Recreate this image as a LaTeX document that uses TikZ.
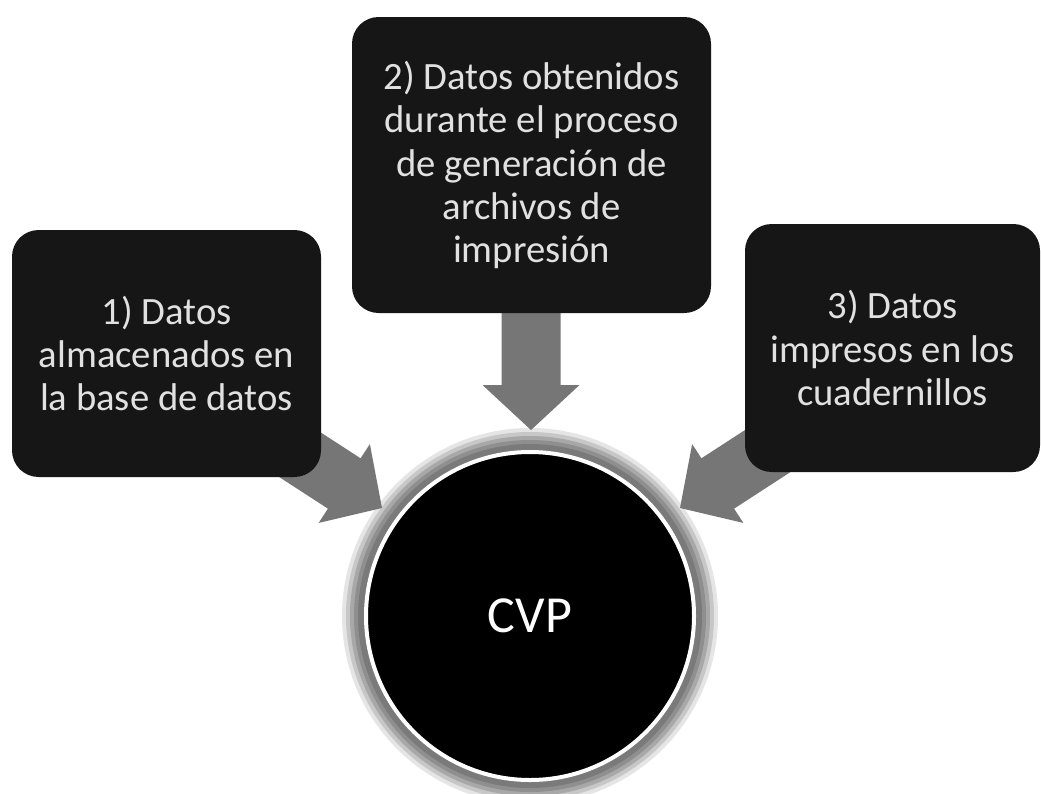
\documentclass[tikz,border=0pt]{standalone}
\usepackage{fontspec}
\setmainfont{Carlito}
\definecolor{boxfill}{RGB}{22,22,22}
\definecolor{boxtext}{RGB}{225,225,225}
\definecolor{arrowgray}{RGB}{118,118,118}
\begin{document}
\begin{tikzpicture}[x=0.75pt,y=-0.75pt,
  box/.style={fill=boxfill, rounded corners=20pt, text=boxtext, align=center,
    font=\fontsize{29pt}{32.5pt}\selectfont, inner sep=0pt},
  blockarrow/.style={fill=arrowgray}]
\useasboundingbox (0,0) rectangle (1041,793);
\fill[white] (0,0) rectangle (1041,793);

% centre position and halo
\coordinate (c) at (530,616);
\fill[black!10] (c) circle[radius=141pt];
\fill[black!22] (c) circle[radius=138pt];
\fill[black!34] (c) circle[radius=135pt];
\fill[black!44] (c) circle[radius=132pt];
\fill[black!52] (c) circle[radius=129pt];

% block arrows
\coordinate (tipL) at (382,508);
\coordinate (tipD) at (531,430);
\coordinate (tipR) at (680,508);
\begin{scope}[shift={(tipL)}, rotate=-33]
  \fill[blockarrow] (0,0) -- (-45,47) -- (-45,30) -- (-150,30) -- (-150,-30) -- (-45,-30) -- (-45,-47) -- cycle;
\end{scope}
\begin{scope}[shift={(tipR)}, rotate=-147]
  \fill[blockarrow] (0,0) -- (-45,47) -- (-45,30) -- (-150,30) -- (-150,-30) -- (-45,-30) -- (-45,-47) -- cycle;
\end{scope}
\begin{scope}[shift={(tipD)}, rotate=-90]
  \fill[blockarrow] (0,0) -- (-45,48.5) -- (-45,29.5) -- (-125,29.5) -- (-125,-29.5) -- (-45,-29.5) -- (-45,-48.5) -- cycle;
\end{scope}

% central circle
\node[circle, fill=black, draw=white, line width=3pt, minimum size=246pt, inner sep=0pt,
  text=white, font=\fontsize{39pt}{46pt}\selectfont] (cvp) at (c) {CVP};

% boxes
\node[box, minimum width=231.75pt, minimum height=185.25pt] (b1) at (166.5,353.5)
  {1) Datos\\almacenados en\\la base de datos};
\node[box, minimum width=269.25pt, minimum height=222pt] (b2) at (531.5,165)
  {2) Datos obtenidos\\durante el proceso\\de generación de\\archivos de\\impresión};
\node[box, minimum width=221.25pt, minimum height=186pt] (b3) at (892.5,348)
  {3) Datos\\impresos en los\\cuadernillos};
\end{tikzpicture}
\end{document}
